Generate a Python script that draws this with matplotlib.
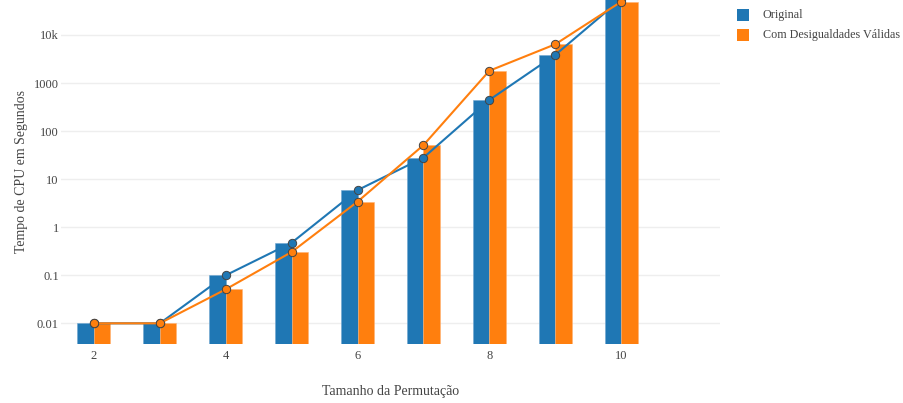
#!/usr/bin/env python3

import matplotlib
matplotlib.use("Agg")
import matplotlib.pyplot as plt
import numpy as np


sizes = [2, 3, 4, 5, 6, 7, 8, 9, 10]
original = [0.01, 0.01, 0.1, 0.475, 5.9, 28, 445, 3850, 56000]
valid_ineq = [0.01, 0.01, 0.051, 0.305, 3.4, 51, 1800, 6400, 49300]

series_names = ["Original", "Com Desigualdades Válidas"]
ytick_vals = [0.01, 0.1, 1, 10, 100, 1000, 10000]
ytick_labels = ["0.01", "0.1", "1", "10", "100", "1000", "10k"]
xtick_vals = [2, 4, 6, 8, 10]

BLUE = "#1f77b4"
ORANGE = "#ff7f0e"
TEXT = "#444444"


def main() -> None:
    plt.rcParams["font.family"] = ["Liberation Serif", "DejaVu Serif"]

    fig = plt.figure(figsize=(9.04, 4.03), dpi=100)
    ax = fig.add_axes([61 / 904, 1 - 343.5 / 403, 659 / 904, 343.5 / 403])

    x = np.array(sizes, dtype=float)
    w = 0.25
    floor = 1e-4
    ax.bar(x - w / 2, np.array(original) - floor, width=w, bottom=floor,
           color=BLUE, edgecolor="#6fa6d0", linewidth=0.4, zorder=2)
    ax.bar(x + w / 2, np.array(valid_ineq) - floor, width=w, bottom=floor,
           color=ORANGE, edgecolor="#ffb273", linewidth=0.4, zorder=2)

    ax.plot(x, original, color=BLUE, lw=1.5, marker="o", ms=6,
            mfc=BLUE, mec=TEXT, mew=0.7, zorder=3)
    ax.plot(x, valid_ineq, color=ORANGE, lw=1.5, marker="o", ms=6,
            mfc=ORANGE, mec=TEXT, mew=0.7, zorder=4)

    ax.set_yscale("log")
    ax.set_xlim(1.5, 11.5)
    ax.set_ylim(10 ** -2.42, 10 ** 4.728)

    ax.set_yticks(ytick_vals)
    ax.set_yticklabels(ytick_labels)
    ax.yaxis.set_minor_locator(matplotlib.ticker.NullLocator())
    ax.set_xticks(xtick_vals)
    ax.tick_params(length=0, labelsize=9, labelcolor=TEXT)
    ax.tick_params(axis="y", pad=1.5)
    ax.tick_params(axis="x", pad=4.5)

    ax.grid(axis="y", color="#eeeeee", lw=1, zorder=0)
    ax.set_axisbelow(True)
    for s in ax.spines.values():
        s.set_visible(False)

    ax.set_xlabel("Tamanho da Permutação", fontsize=10, color=TEXT, labelpad=16.5)
    ax.set_ylabel("Tempo de CPU em Segundos", fontsize=10, color=TEXT, labelpad=4)

    # legend drawn by hand in figure pixels
    for i, (name, col) in enumerate(zip(series_names, [BLUE, ORANGE])):
        yc = 403 - (15 + 20 * i)
        fig.patches.append(matplotlib.patches.Rectangle(
            (737 / 904, (yc - 6) / 403), 12 / 904, 12 / 403,
            transform=fig.transFigure, facecolor=col, edgecolor="none"))
        fig.text(763 / 904, yc / 403, name, fontsize=8.7, color=TEXT,
                 va="center", ha="left")

    fig.savefig("out.png", dpi=100, facecolor="white")


if __name__ == "__main__":
    main()
